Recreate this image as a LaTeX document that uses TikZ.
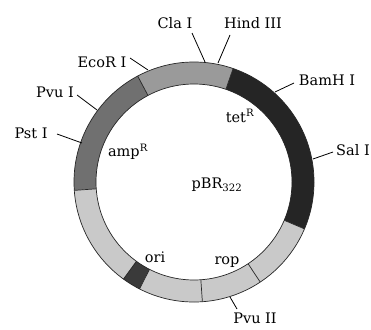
\documentclass[tikz,border=0pt]{standalone}
\usepackage{fontspec}
\setmainfont{DejaVu Serif}
\usetikzlibrary{calc}
\definecolor{segtop}{HTML}{9A9A9A}
\definecolor{segamp}{HTML}{707070}
\definecolor{seglight}{HTML}{C9C9C9}
\definecolor{segdark}{HTML}{252525}
\definecolor{segori}{HTML}{3A3A3A}
\newcommand{\ringseg}[3]{%
  \fill[#3] ($(C)+(#1:120pt)$) arc[start angle=#1,end angle=#2,radius=120pt]
    -- ($(C)+(#2:98pt)$) arc[start angle=#2,end angle=#1,radius=98pt] -- cycle;}
\newcommand{\ringcut}[1]{\draw[edge] ($(C)+(#1:98pt)$) -- ($(C)+(#1:120pt)$);}
\begin{document}
\begin{tikzpicture}[x=1pt,y=1pt,
  lab/.style={font=\fontsize{14.5}{16}\selectfont, inner sep=0pt},
  edge/.style={draw=black!85, line width=0.7pt},
  tick/.style={draw=black, line width=0.8pt}]
\useasboundingbox (0,0) rectangle (371,-329);
\coordinate (C) at (194,-182);
% ring segments
\ringseg{-23}{71}{segdark}
\ringseg{71}{118}{segtop}
\ringseg{118}{184}{segamp}
\ringseg{184}{234}{seglight}
\ringseg{234}{243}{segori}
\ringseg{243}{274}{seglight}
\ringseg{274}{303.5}{seglight}
\ringseg{303.5}{337}{seglight}
% outlines
\draw[edge] (C) circle[radius=120pt];
\draw[edge] (C) circle[radius=98pt];
\ringcut{71}\ringcut{118}\ringcut{184}\ringcut{234}\ringcut{243}\ringcut{274}\ringcut{303.5}\ringcut{337}
% labels
\node[lab] (cla) at (175,-23) {Cla I};
\node[lab] (hind) at (253,-23) {Hind III};
\node[lab] (ecor) at (102,-62) {EcoR I};
\node[lab] (pvu1) at (55,-92) {Pvu I};
\node[lab] (bamh) at (327,-80) {BamH I};
\node[lab] (pst) at (31,-133) {Pst I};
\node[lab] (sal) at (353,-150) {Sal I};
\node[lab] (pvu2) at (255,-318) {Pvu II};
\node[lab] (tet) at (240,-116) {tet\textsuperscript{R}};
\node[lab] (amp) at (128,-152) {amp\textsuperscript{R}};
\node[lab] (pbr) at (217,-185) {pBR\textsubscript{322}};
\node[lab] (ori) at (155,-257) {ori};
\node[lab] (rop) at (227,-262) {rop};
% tick coordinates
\coordinate (claA) at (192,-33);  \coordinate (claB) at (205,-62);
\coordinate (hindA) at (230,-35); \coordinate (hindB) at (218,-63);
\coordinate (ecorA) at (130,-58); \coordinate (ecorB) at (148,-70);
\coordinate (pvu1A) at (77,-95);  \coordinate (pvu1B) at (97,-110);
\coordinate (bamhA) at (294,-83); \coordinate (bamhB) at (275,-92);
\coordinate (pstA) at (57,-134);  \coordinate (pstB) at (82,-143);
\coordinate (salA) at (333,-152); \coordinate (salB) at (313,-159);
\coordinate (pvu2A) at (237,-309); \coordinate (pvu2B) at (230,-297);
\draw[tick] (claA) -- (claB);
\draw[tick] (hindA) -- (hindB);
\draw[tick] (ecorA) -- (ecorB);
\draw[tick] (pvu1A) -- (pvu1B);
\draw[tick] (bamhA) -- (bamhB);
\draw[tick] (pstA) -- (pstB);
\draw[tick] (salA) -- (salB);
\draw[tick] (pvu2A) -- (pvu2B);
\end{tikzpicture}
\end{document}
